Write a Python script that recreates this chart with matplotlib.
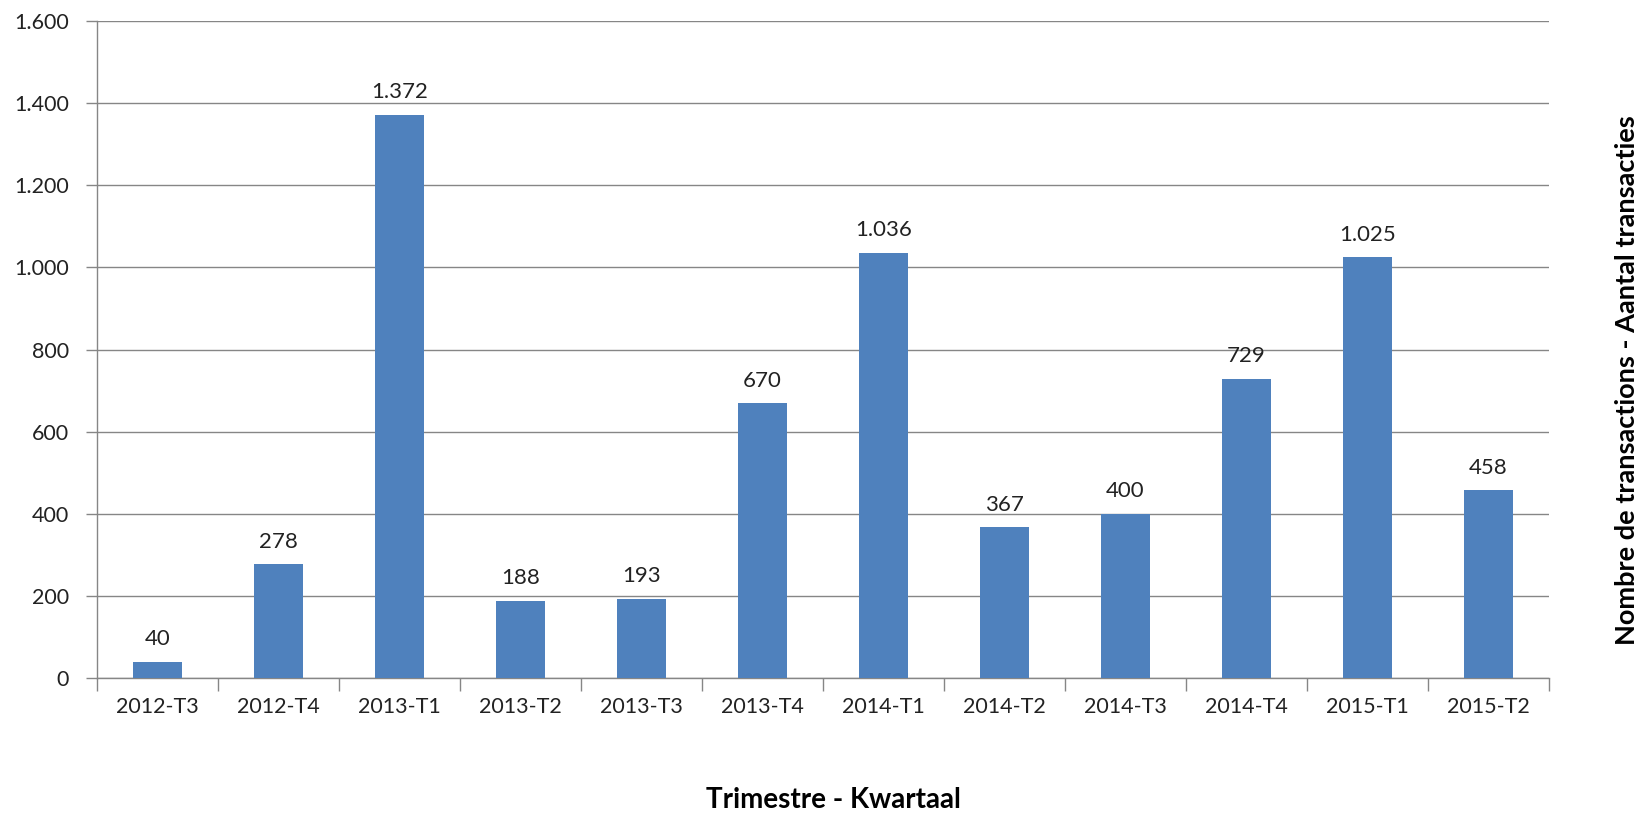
import matplotlib
matplotlib.use("Agg")
import matplotlib.pyplot as plt
import numpy as np
from matplotlib.ticker import FuncFormatter

quarters = ["2012-T3", "2012-T4", "2013-T1", "2013-T2", "2013-T3", "2013-T4",
            "2014-T1", "2014-T2", "2014-T3", "2014-T4", "2015-T1", "2015-T2"]
transactions = [40, 278, 1372, 188, 193, 670, 1036, 367, 400, 729, 1025, 458]
y_ticks = [0, 200, 400, 600, 800, 1000, 1200, 1400, 1600]


def dot_thousands(v):
    # Belgian style: 1.372 instead of 1,372
    return f"{int(v):,}".replace(",", ".")


plt.rcParams["font.family"] = ["Lato", "DejaVu Sans"]

fig = plt.figure(figsize=(16.39, 8.15), dpi=100)
ax = fig.add_axes([97 / 1639, 1 - 678 / 815, (1549 - 97) / 1639, (678 - 21) / 815])

x = np.arange(len(quarters))
ax.bar(x, transactions, width=0.4, color="#4F81BD", zorder=3)

for xi, v in zip(x, transactions):
    ax.text(xi, v + 30, dot_thousands(v), ha="center", va="bottom",
            fontsize=16, color="#222222")

ax.set_xlim(-0.5, len(quarters) - 0.5)
ax.set_ylim(0, 1600)
ax.set_yticks(y_ticks)
ax.yaxis.set_major_formatter(FuncFormatter(lambda v, p: dot_thousands(v)))
ax.grid(axis="y", color="#868686", linewidth=1.0, zorder=0)

ax.set_xticks(x)
ax.set_xticklabels(quarters)
ax.set_xticks(np.arange(len(quarters) + 1) - 0.5, minor=True)
ax.tick_params(axis="x", which="major", length=0, labelsize=15.5, pad=14, colors="#222222")
ax.tick_params(axis="x", which="minor", length=9, width=1, color="#868686")
ax.tick_params(axis="y", length=8, width=1, color="#868686", labelsize=15.5,
               pad=12, labelcolor="#222222")

for side in ["top", "right"]:
    ax.spines[side].set_visible(False)
for side in ["left", "bottom"]:
    ax.spines[side].set_color("#868686")
    ax.spines[side].set_linewidth(1.0)

fig.text((700 + 967) / 2 / 1639, 1 - 800 / 815, "Trimestre - Kwartaal",
         ha="center", va="center", fontsize=20, fontweight="bold")
fig.text(1627 / 1639, 1 - 380 / 815, "Nombre de transactions - Aantal transacties",
         ha="center", va="center", rotation=90, fontsize=19.5, fontweight="bold")

fig.savefig("out.png", dpi=100)
